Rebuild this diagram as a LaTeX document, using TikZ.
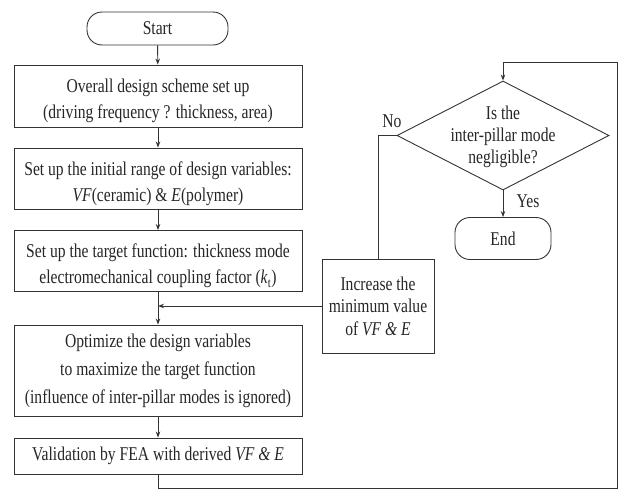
\documentclass[tikz,border=0pt]{standalone}
\usepackage{fontspec}
\setmainfont[FakeStretch=0.8]{Liberation Serif}
\usetikzlibrary{shapes.geometric,arrows.meta}
\newcommand{\lowerstrut}{\rule{0pt}{24pt}}
\begin{document}
\begin{tikzpicture}[x=1pt,y=-1pt,
  line width=0.9pt,
  every node/.style={font=\fontsize{19.5}{26}\selectfont, text=black!85},
  box/.style={draw=black!80, rectangle, minimum width=288pt, align=center, inner sep=0pt},
  term/.style={draw=black!80, rectangle, rounded corners=15pt, inner sep=0pt},
  arr/.style={-{Stealth[length=6pt,width=4.5pt]}, draw=black!80},
  ln/.style={draw=black!80}]
\useasboundingbox (0,0) rectangle (620,493);
\node[term, minimum width=141pt, minimum height=33pt] (start) at (157.5,28.5) {Start};
\node[box, minimum height=62pt] (b1) at (158,96) {\lowerstrut Overall design scheme set up\\(driving frequency ? thickness, area)};
\node[box, minimum height=61pt] (b2) at (158,178.5) {\lowerstrut Set up the initial range of design variables:\\\textit{VF}(ceramic) \& \textit{E}(polymer)};
\node[box, minimum height=61pt] (b3) at (158,261) {\lowerstrut Set up the target function: thickness mode\\electromechanical coupling factor (\textit{k}\textsubscript{t})};
\node[box, minimum height=91pt, font=\fontsize{19.5}{28}\selectfont] (b4) at (158,370.5) {Optimize the design variables\\to maximize the target function\\(influence of inter-pillar modes is ignored)};
\node[box, minimum height=36pt] (b5) at (158,456) {Validation by FEA with derived \textit{VF \& E}};
\node[draw=black!80, diamond, minimum width=212pt, minimum height=109pt, inner sep=0pt] (dia) at (503,135.5) {};
\node[align=center, font=\fontsize{19.5}{22}\selectfont] (diatext) at (503,137) {Is the\\inter-pillar mode\\negligible?};
\node[term, minimum width=96pt, minimum height=42pt] (end) at (503,238.5) {End};
\node[draw=black!80, rectangle, minimum width=112pt, minimum height=94pt, inner sep=0pt, align=center, font=\fontsize{19.5}{22.5}\selectfont] (inc) at (378,306) {Increase the\\minimum value\\of \textit{VF \& E}};
\node (no) at (392,121) {No};
\node (yes) at (528,201) {Yes};
\coordinate (c1) at (617,488);
\coordinate (c2) at (617,62);
\draw[arr] (start) -- (b1);
\draw[arr] (b1) -- (b2);
\draw[arr] (b2) -- (b3);
\draw[arr] (b3) -- (b4);
\draw[arr] (b4) -- (b5);
\draw[arr] (dia) -- (end);
\draw[ln] (dia.west) -| (inc.north);
\draw[arr] (inc.west) -- (inc.west -| b3.south);
\draw[arr] (b5.south) |- (c1) -- (c2) -| (dia.north);
\end{tikzpicture}
\end{document}
